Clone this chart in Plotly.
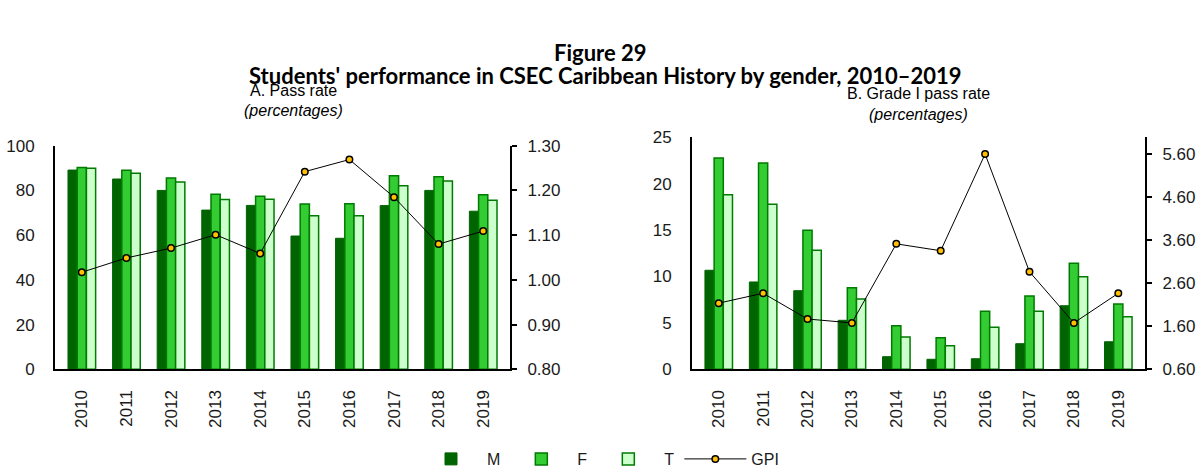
import plotly.graph_objects as go

years = ["2010", "2011", "2012", "2013", "2014", "2015", "2016", "2017", "2018", "2019"]

# Panel A: pass rate (percentages)
pass_m = [89.1, 85.1, 80.0, 71.2, 73.3, 59.6, 58.6, 73.2, 80.0, 70.7]
pass_f = [90.3, 89.0, 85.6, 78.3, 77.4, 73.9, 74.0, 86.6, 86.1, 78.1]
pass_t = [89.9, 87.7, 83.8, 75.9, 76.0, 68.7, 68.7, 82.1, 84.2, 75.6]
pass_gpi = [1.017, 1.049, 1.071, 1.101, 1.059, 1.242, 1.269, 1.185, 1.080, 1.109]

# Panel B: grade I pass rate (percentages)
g1_m = [10.67, 9.41, 8.47, 5.28, 1.36, 1.08, 1.14, 2.76, 6.85, 2.97]
g1_f = [22.77, 22.23, 14.98, 8.79, 4.70, 3.41, 6.25, 7.90, 11.42, 7.04]
g1_t = [18.80, 17.78, 12.82, 7.58, 3.48, 2.55, 4.53, 6.25, 9.98, 5.67]
g1_gpi = [2.14, 2.37, 1.77, 1.68, 3.52, 3.36, 5.61, 2.87, 1.68, 2.37]

left_ticks = [0, 20, 40, 60, 80, 100]
left_gpi_ticks = [0.80, 0.90, 1.00, 1.10, 1.20, 1.30]
right_ticks = [0, 5, 10, 15, 20, 25]
right_gpi_ticks = [0.60, 1.60, 2.60, 3.60, 4.60, 5.60]

C_M = "#006400"
C_F = "#33CC33"
C_T = "#CCFFCC"
C_EDGE = "#007A00"
C_DOT = "#FFC000"

W, H = 1199, 476
def px_x(a, b):
    return [a / W, b / W]
def px_y(top, bottom):
    return [1 - bottom / H, 1 - top / H]

fig = go.Figure()

def add_panel(xa, ya, ya2, m, f, t, gpi, show):
    fig.add_trace(go.Bar(x=years, y=m, name="M", marker=dict(color=C_M, line=dict(color=C_M, width=1)),
                         xaxis=xa, yaxis=ya, showlegend=show, legendgroup="M", offsetgroup="M" + xa))
    fig.add_trace(go.Bar(x=years, y=f, name="F", marker=dict(color=C_F, line=dict(color=C_EDGE, width=1.5)),
                         xaxis=xa, yaxis=ya, showlegend=show, legendgroup="F", offsetgroup="F" + xa))
    fig.add_trace(go.Bar(x=years, y=t, name="T", marker=dict(color=C_T, line=dict(color=C_EDGE, width=1.5)),
                         xaxis=xa, yaxis=ya, showlegend=show, legendgroup="T", offsetgroup="T" + xa))
    fig.add_trace(go.Scatter(x=years, y=gpi, name="GPI", mode="lines+markers",
                             line=dict(color="black", width=1),
                             marker=dict(color=C_DOT, size=6.5, line=dict(color="black", width=1.5)),
                             xaxis=xa, yaxis=ya2, showlegend=show, legendgroup="GPI"))

add_panel("x", "y", "y2", pass_m, pass_f, pass_t, pass_gpi, True)
add_panel("x2", "y3", "y4", g1_m, g1_f, g1_t, g1_gpi, False)

tickfont = dict(family="Liberation Sans, Arial, sans-serif", size=17, color="#1a1a1a")

xcommon = dict(type="category", showline=True, linecolor="black", linewidth=2, ticks="",
               tickangle=-90, tickfont=tickfont, showgrid=False, zeroline=False,
               ticklabelstandoff=12, automargin=False)
yleft = dict(showline=True, linecolor="black", linewidth=2, ticks="", tickfont=tickfont,
             showgrid=False, zeroline=False, ticklabelstandoff=15, automargin=False)
yright = dict(showline=True, linecolor="black", linewidth=2, ticks="outside", ticklen=5,
              tickcolor="black", tickwidth=2, tickfont=tickfont, showgrid=False, zeroline=False,
              side="right", ticklabelstandoff=7, automargin=False)

fig.update_layout(
    template="none",
    autosize=False,
    width=W, height=H,
    margin=dict(l=0, r=0, t=0, b=0, pad=0),
    paper_bgcolor="white", plot_bgcolor="white",
    barmode="group", bargap=0.38, bargroupgap=0,
    showlegend=True,
    legend=dict(orientation="h", x=0.5, xanchor="center", y=0.0, yanchor="bottom",
                font=dict(family="Liberation Sans, Arial, sans-serif", size=16, color="#1a1a1a"),
                itemwidth=62, traceorder="normal", bgcolor="rgba(0,0,0,0)",
                borderwidth=0, tracegroupgap=0),
    xaxis=dict(domain=px_x(55, 510), anchor="y", **xcommon),
    yaxis=dict(domain=px_y(145.7, 369.3), anchor="x", range=[0, 100], tickvals=left_ticks, **yleft),
    yaxis2=dict(overlaying="y", anchor="x", range=[0.8, 1.3], tickvals=left_gpi_ticks,
                tickformat=".2f", **yright),
    xaxis2=dict(domain=px_x(692, 1145), anchor="y3", **xcommon),
    yaxis3=dict(domain=px_y(137.3, 369.3), anchor="x2", range=[0, 25], tickvals=right_ticks, **yleft),
    yaxis4=dict(overlaying="y3", anchor="x2", range=[0.6, 6.0], tickvals=right_gpi_ticks,
                tickformat=".2f", **yright),
)

title_font = dict(family="Lato, Open Sans, sans-serif", size=22, color="black")
fig.add_annotation(text="<b>Figure 29</b>", x=600 / W, y=1 - 52 / H, xref="paper", yref="paper",
                   showarrow=False, font=title_font, xanchor="center", yanchor="middle")
fig.add_annotation(text="<b>Students' performance in CSEC Caribbean History by gender, 2010–2019</b>",
                   x=605 / W, y=1 - 75 / H, xref="paper", yref="paper",
                   showarrow=False, font=title_font, xanchor="center", yanchor="middle")

sub_font = dict(family="Liberation Sans, Arial, sans-serif", size=16, color="black")
fig.add_annotation(text="A. Pass rate", x=293 / W, y=1 - 90 / H, xref="paper", yref="paper",
                   showarrow=False, font=sub_font, xanchor="center", yanchor="middle")
fig.add_annotation(text="<i>(percentages)</i>", x=293 / W, y=1 - 110 / H, xref="paper", yref="paper",
                   showarrow=False, font=sub_font, xanchor="center", yanchor="middle")
fig.add_annotation(text="B. Grade I pass rate", x=918 / W, y=1 - 94 / H, xref="paper", yref="paper",
                   showarrow=False, font=sub_font, xanchor="center", yanchor="middle")
fig.add_annotation(text="<i>(percentages)</i>", x=918 / W, y=1 - 114 / H, xref="paper", yref="paper",
                   showarrow=False, font=sub_font, xanchor="center", yanchor="middle")

fig.write_html("out.html", config={"displayModeBar": False},
               post_script="document.body.style.margin='0';document.body.style.overflow='hidden';")
